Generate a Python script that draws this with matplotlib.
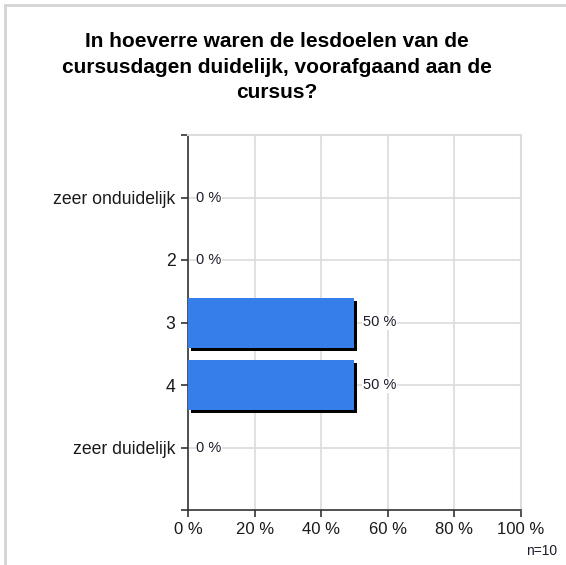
import matplotlib
matplotlib.use('Agg')
import matplotlib.pyplot as plt
import matplotlib.transforms as mtransforms
from matplotlib.lines import Line2D

categorieen = ['zeer onduidelijk', '2', '3', '4', 'zeer duidelijk']
percentages = [0, 0, 50, 50, 0]
xticks = [0, 20, 40, 60, 80, 100]
xlabels = ['0 %', '20 %', '40 %', '60 %', '80 %', '100 %']
titel = 'In hoeverre waren de lesdoelen van de\ncursusdagen duidelijk, voorafgaand aan de\ncursus?'
aantal = 'n=10'

plt.rcParams['font.family'] = ['Liberation Sans', 'DejaVu Sans']

fig = plt.figure(figsize=(5.66, 5.65), dpi=100)
ax = fig.add_axes([188 / 566, 1 - 510 / 565, 333 / 566, 375 / 565])

pos = list(range(len(categorieen)))

# schaduw onder de balken
schaduw = mtransforms.offset_copy(ax.transData, fig=fig, x=3, y=-3, units='dots')
ax.barh(pos, percentages, height=0.8, color='black', transform=schaduw, zorder=2)
ax.barh(pos, percentages, height=0.8, color='#367fea', zorder=3)

for p, v in zip(pos, percentages):
    ax.annotate('{} %'.format(v), (v, p), xytext=(6, 0), textcoords='offset points',
                va='center', ha='left', fontsize=10.5, color='#1c1c2a', zorder=4,
                bbox=dict(boxstyle='square,pad=0.05', fc='white', ec='none'))

ax.set_xlim(0, 100)
ax.set_ylim(5, -1)
ax.set_xticks(xticks)
ax.set_xticklabels(xlabels, fontsize=12, color='#1a1a1a')
ax.set_yticks([-1] + pos + [5])
ax.set_yticklabels([''] + categorieen + [''], fontsize=12.7, color='#1a1a1a')
ax.tick_params(axis='both', length=5, width=1.2, color='#333333', pad=4)

ax.set_axisbelow(True)
ax.xaxis.grid(True, color='#dcdcdc', linewidth=1.2)
for p in pos:
    ax.axhline(p, color='#dcdcdc', linewidth=1.2, zorder=0)

ax.spines['left'].set_color('#333333')
ax.spines['bottom'].set_color('#333333')
ax.spines['left'].set_linewidth(1.2)
ax.spines['bottom'].set_linewidth(1.2)
ax.spines['top'].set_color('#dcdcdc')
ax.spines['right'].set_color('#dcdcdc')
ax.spines['top'].set_linewidth(1.5)
ax.spines['right'].set_linewidth(1.5)

fig.text(277 / 566, 1 - 32 / 565, titel, ha='center', va='top', fontsize=15,
         fontweight='bold', linespacing=1.45)
fig.text(557 / 566, 1 - 558 / 565, aantal, ha='right', va='bottom', fontsize=10,
         color='#1c1c2a')

# grijze kaderlijnen links en boven
fig.add_artist(Line2D([5 / 566, 5 / 566], [0, 1 - 5 / 565], color='#d4d4d4', linewidth=2,
                      transform=fig.transFigure))
fig.add_artist(Line2D([5 / 566, 1], [1 - 5 / 565, 1 - 5 / 565], color='#d4d4d4', linewidth=2,
                      transform=fig.transFigure))

fig.savefig('out.png', dpi=100)
